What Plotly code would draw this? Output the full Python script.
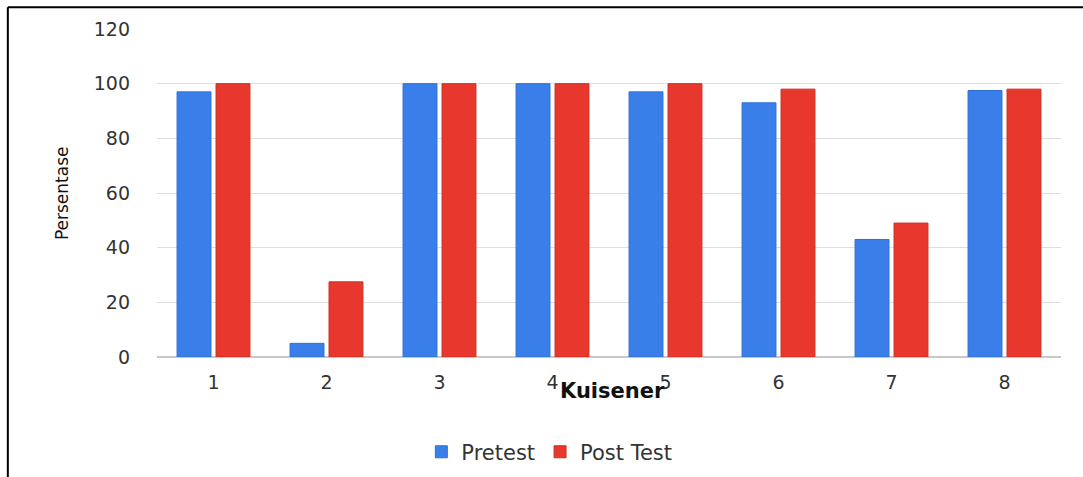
import plotly.graph_objects as go

# Questionnaire items and percentage scores
kuisener = ["1", "2", "3", "4", "5", "6", "7", "8"]
pretest = [97, 5, 100, 100, 97, 93, 43, 97.5]
post_test = [100, 27.5, 100, 100, 100, 98, 49, 98]
y_ticks = [0, 20, 40, 60, 80, 100, 120]

FONT = "DejaVu Sans, Arial, sans-serif"
BLUE = "#3a7fe9"
RED = "#e8372c"

fig = go.Figure()
fig.add_trace(go.Bar(
    name="Pretest", x=kuisener, y=pretest,
    marker=dict(color=BLUE, line=dict(color="#2f6fd6", width=1)),
))
fig.add_trace(go.Bar(
    name="Post Test", x=kuisener, y=post_test,
    marker=dict(color=RED, line=dict(color="#cf3026", width=1)),
))

fig.update_layout(
    width=1083, height=477,
    margin=dict(l=157, r=22, t=29, b=120, autoexpand=False),
    paper_bgcolor="white", plot_bgcolor="white",
    barmode="group", bargap=0.31, bargroupgap=0.13,
    font=dict(family=FONT, size=19, color="#333333"),
    showlegend=True,
    legend=dict(
        orientation="h", x=0.434, xanchor="center", y=-0.29, yanchor="middle",
        font=dict(family=FONT, size=21, color="#333333"),
        itemwidth=30, traceorder="normal",
    ),
    xaxis=dict(
        type="category", showgrid=False, showline=False, zeroline=False,
        ticks="", tickfont=dict(family=FONT, size=19, color="#333333"),
        ticklabelstandoff=12,
    ),
    yaxis=dict(
        range=[0, 120], tickvals=y_ticks, showgrid=True, gridcolor="#dedede",
        gridwidth=1, zeroline=True, zerolinecolor="#c8c8c8", showline=False,
        ticks="", tickfont=dict(family=FONT, size=19, color="#333333"),
        ticklabelstandoff=26,
    ),
    annotations=[
        dict(text="Persentase", xref="paper", yref="paper",
             x=-0.105, y=0.5, xanchor="center", yanchor="middle",
             textangle=-90, showarrow=False,
             font=dict(family=FONT, size=17, color="#111111")),
        dict(text="<b>Kuisener</b>", xref="paper", yref="paper",
             x=0.504, y=-0.104, xanchor="center", yanchor="middle",
             showarrow=False,
             font=dict(family=FONT, size=21, color="#111111")),
    ],
    shapes=[
        dict(type="line", xref="paper", yref="paper", x0=-0.165, x1=1.03,
             y0=1.066, y1=1.066, line=dict(color="black", width=2)),
        dict(type="line", xref="paper", yref="paper", x0=-0.165, x1=-0.165,
             y0=1.066, y1=-0.37, line=dict(color="black", width=2)),
    ],
)

fig.write_html("out.html")
